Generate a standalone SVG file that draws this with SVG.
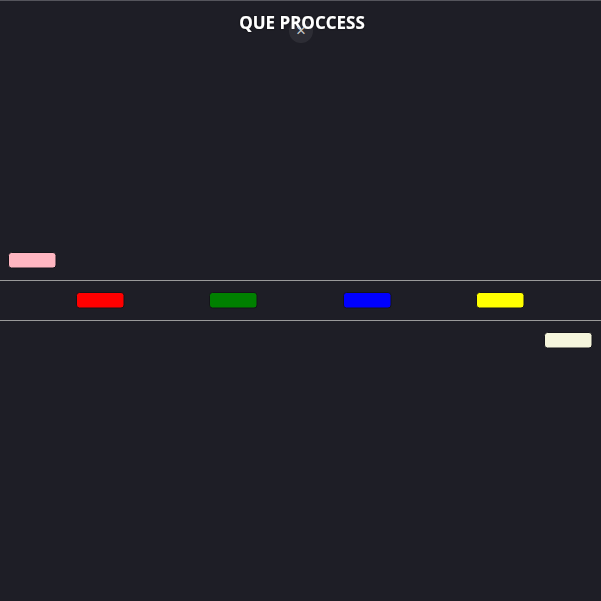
<svg xmlns="http://www.w3.org/2000/svg" width="601" height="601" viewBox="0 0 601 601">
<style>
.bg{fill:#1e1e26}
.sep{stroke:#9a9a9a;stroke-width:1}
.box{stroke:#14141a;stroke-width:1}
.title{font-family:"Open Sans","Liberation Sans",sans-serif;font-weight:bold;font-size:17px;fill:#ffffff}
</style>
<defs>
<filter id="sh" x="-10%" y="-30%" width="120%" height="160%">
<feDropShadow dx="0" dy="0" stdDeviation="1.2" flood-color="#000" flood-opacity="0.9"/>
</filter>
</defs>
<rect class="bg" x="0" y="0" width="601" height="601"/>
<line x1="0" y1="0.5" x2="601" y2="0.5" stroke="#55555c" stroke-width="1"/>
<g id="title">
<text class="title" x="302" y="29" text-anchor="middle" filter="url(#sh)">QUE PROCCESS</text>
</g>
<g id="close">
<circle cx="301" cy="31" r="12" fill="#ffffff" fill-opacity="0.07"/>
<text x="301" y="35.5" text-anchor="middle" font-family="Liberation Sans, sans-serif" font-size="17" fill="#c8c8c8">×</text>
</g>
<g id="lanes">
<line class="sep" x1="0" y1="280.5" x2="601" y2="280.5"/>
<line class="sep" x1="0" y1="320.5" x2="601" y2="320.5"/>
</g>
<g id="pink"><rect class="box" x="8.5" y="252.5" width="47.5" height="15.5" rx="3" fill="#ffb6c1"/></g>
<g id="red"><rect class="box" x="76.5" y="292.5" width="47.5" height="15.5" rx="3" fill="#ff0000"/></g>
<g id="green"><rect class="box" x="209.5" y="292.5" width="47.5" height="15.5" rx="3" fill="#008000"/></g>
<g id="blue"><rect class="box" x="343.5" y="292.5" width="47.5" height="15.5" rx="3" fill="#0000ff"/></g>
<g id="yellow"><rect class="box" x="476.5" y="292.5" width="47.5" height="15.5" rx="3" fill="#ffff00"/></g>
<g id="beige"><rect class="box" x="544.5" y="332.5" width="47.5" height="15.5" rx="3" fill="#f5f5dc"/></g>
<g id="connectors"></g>
</svg>
